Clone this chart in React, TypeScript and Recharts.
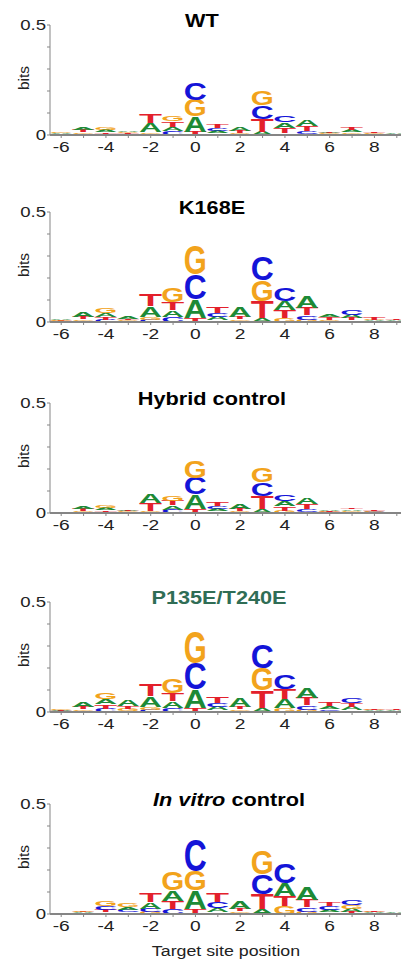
import React from 'react';
import { BarChart, Bar, XAxis, YAxis } from 'recharts';

const POSITIONS = [-6, -5, -4, -3, -2, -1, 0, 1, 2, 3, 4, 5, 6, 7, 8, 9];
const X_TICK_LABELS = [-6, -4, -2, 0, 2, 4, 6, 8];
const Y_TICKS = [0, 0.1, 0.2, 0.3, 0.4, 0.5];

// bits per letter at each position
const WT_A = [0.003, 0.012, 0.010, 0.006, 0.040, 0.020, 0.070, 0.010, 0.020, 0.015, 0.025, 0.028, 0.005, 0.010, 0.003, 0.003];
const WT_C = [0.002, 0.005, 0.006, 0.003, 0.005, 0.018, 0.080, 0.012, 0.004, 0.062, 0.030, 0.012, 0.003, 0.005, 0.002, 0.002];
const WT_G = [0.003, 0.008, 0.011, 0.005, 0.008, 0.025, 0.075, 0.008, 0.005, 0.066, 0.008, 0.005, 0.004, 0.008, 0.003, 0.002];
const WT_T = [0.002, 0.010, 0.008, 0.004, 0.042, 0.024, 0.015, 0.016, 0.010, 0.058, 0.024, 0.024, 0.004, 0.010, 0.003, 0.002];

const K168E_A = [0.005, 0.025, 0.018, 0.012, 0.050, 0.030, 0.085, 0.015, 0.045, 0.020, 0.040, 0.055, 0.012, 0.015, 0.004, 0.003];
const K168E_C = [0.003, 0.005, 0.010, 0.003, 0.010, 0.025, 0.115, 0.020, 0.005, 0.105, 0.060, 0.020, 0.005, 0.022, 0.003, 0.002];
const K168E_G = [0.004, 0.008, 0.022, 0.005, 0.012, 0.065, 0.130, 0.008, 0.008, 0.095, 0.020, 0.010, 0.006, 0.008, 0.004, 0.002];
const K168E_T = [0.003, 0.012, 0.012, 0.005, 0.055, 0.035, 0.020, 0.030, 0.010, 0.075, 0.035, 0.035, 0.010, 0.010, 0.012, 0.003];

const HYB_A = [0.002, 0.011, 0.009, 0.005, 0.040, 0.020, 0.065, 0.010, 0.025, 0.020, 0.024, 0.027, 0.004, 0.008, 0.003, 0.002];
const HYB_C = [0.002, 0.004, 0.006, 0.003, 0.005, 0.015, 0.075, 0.012, 0.004, 0.062, 0.027, 0.012, 0.003, 0.005, 0.003, 0.002];
const HYB_G = [0.002, 0.007, 0.010, 0.004, 0.006, 0.025, 0.080, 0.008, 0.005, 0.068, 0.010, 0.005, 0.003, 0.006, 0.003, 0.002];
const HYB_T = [0.002, 0.009, 0.007, 0.004, 0.036, 0.021, 0.020, 0.015, 0.010, 0.058, 0.020, 0.023, 0.003, 0.008, 0.004, 0.002];

const DBL_A = [0.004, 0.022, 0.025, 0.030, 0.050, 0.030, 0.085, 0.015, 0.040, 0.020, 0.040, 0.050, 0.012, 0.015, 0.004, 0.003];
const DBL_C = [0.003, 0.005, 0.015, 0.005, 0.010, 0.020, 0.120, 0.020, 0.005, 0.110, 0.065, 0.020, 0.008, 0.025, 0.003, 0.002];
const DBL_G = [0.004, 0.008, 0.030, 0.010, 0.012, 0.065, 0.145, 0.008, 0.008, 0.100, 0.020, 0.010, 0.006, 0.008, 0.004, 0.002];
const DBL_T = [0.003, 0.012, 0.020, 0.011, 0.055, 0.035, 0.020, 0.030, 0.012, 0.080, 0.045, 0.035, 0.015, 0.016, 0.006, 0.003];

const VITRO_A = [0.002, 0.004, 0.008, 0.014, 0.030, 0.050, 0.083, 0.018, 0.035, 0.022, 0.060, 0.060, 0.012, 0.015, 0.004, 0.003];
const VITRO_C = [0.002, 0.003, 0.018, 0.010, 0.015, 0.025, 0.145, 0.028, 0.005, 0.090, 0.090, 0.020, 0.015, 0.022, 0.003, 0.002];
const VITRO_G = [0.002, 0.005, 0.022, 0.018, 0.010, 0.085, 0.087, 0.008, 0.008, 0.105, 0.035, 0.010, 0.008, 0.018, 0.004, 0.002];
const VITRO_T = [0.002, 0.004, 0.012, 0.008, 0.040, 0.035, 0.025, 0.040, 0.012, 0.070, 0.045, 0.035, 0.016, 0.010, 0.004, 0.002];

const COLORS: Record<string, string> = { A: '#1d8a36', C: '#1414d8', G: '#f2a31c', T: '#e3202b' };
const FONT = '"Liberation Sans", Arial, sans-serif';
const AXIS = '#858585';
const STRETCH = 1.24;

const panels = [
  { title: <>WT</>, color: '#000', base: 135, cx: 202, a: WT_A, c: WT_C, g: WT_G, t: WT_T },
  { title: <>K168E</>, color: '#000', base: 322, cx: 212, a: K168E_A, c: K168E_C, g: K168E_G, t: K168E_T },
  { title: <>Hybrid control</>, color: '#000', base: 513, cx: 212, a: HYB_A, c: HYB_C, g: HYB_G, t: HYB_T },
  { title: <>P135E/T240E</>, color: '#2f6d55', base: 712, cx: 219, a: DBL_A, c: DBL_C, g: DBL_G, t: DBL_T },
  { title: <><i>In vitro</i> control</>, color: '#000', base: 914, cx: 229, a: VITRO_A, c: VITRO_C, g: VITRO_G, t: VITRO_T },
];

// sort letters per column so the tallest sits on top
function buildRows(a: number[], c: number[], g: number[], t: number[]) {
  return POSITIONS.map((pos, i) => {
    const items: [string, number][] = [['A', a[i]], ['C', c[i]], ['G', g[i]], ['T', t[i]]];
    items.sort((p, q) => p[1] - q[1]);
    const row: any = { pos };
    items.forEach(([l, v], k) => {
      row[`h${k}`] = v;
      row[`l${k}`] = l;
    });
    return row;
  });
}

const Letter = (props: any) => {
  const { x, y, width, height, payload, rank } = props;
  const ch = payload ? payload[`l${rank}`] : null;
  if (!ch || !height || height < 0.15) return null;
  const fs = 100;
  const sy = height / (0.716 * fs);
  return (
    <g transform={`translate(0, ${y + height}) scale(1, ${sy})`}>
      <text
        x={x - 1.5}
        y={0}
        fontSize={fs}
        fontFamily={FONT}
        fontWeight="bold"
        fill={COLORS[ch]}
        textLength={width + 3}
        lengthAdjust="spacingAndGlyphs"
      >
        {ch}
      </text>
    </g>
  );
};

const YTick = (props: any) => {
  const { x, y, payload } = props;
  if (payload.value !== 0 && payload.value !== 0.5) return <g />;
  return (
    <text
      x={x}
      y={y}
      dy={5}
      textAnchor="end"
      fontSize={15}
      fontFamily={FONT}
      fill="#222"
      transform={`translate(${x},0) scale(${STRETCH},1) translate(${-x},0)`}
    >
      {payload.value === 0 ? '0' : '0.5'}
    </text>
  );
};

const XTick = (props: any) => {
  const { x, y, payload } = props;
  if (!X_TICK_LABELS.includes(payload.value)) return <g />;
  return (
    <text
      x={x}
      y={y}
      dy={12}
      textAnchor="middle"
      fontSize={15.5}
      fontFamily={FONT}
      fill="#222"
      transform={`translate(${x},0) scale(${STRETCH},1) translate(${-x},0)`}
    >
      {payload.value}
    </text>
  );
};

const textBase: React.CSSProperties = {
  position: 'absolute',
  fontFamily: FONT,
  lineHeight: 1,
  whiteSpace: 'nowrap',
};

export default function App() {
  return (
    <div style={{ position: 'absolute', left: 0, top: 0, width: 401, height: 962, overflow: 'hidden', background: '#fff' }}>
      {panels.map((p, idx) => {
        const rows = buildRows(p.a, p.c, p.g, p.t);
        return (
          <React.Fragment key={idx}>
            <div style={{ position: 'absolute', left: 0, top: p.base - 115 }}>
              <BarChart width={408} height={140} data={rows} margin={{ top: 5, right: 0, bottom: 0, left: 0 }}>
                <XAxis
                  dataKey="pos"
                  type="number"
                  domain={[-6.5, 9.5]}
                  ticks={POSITIONS}
                  interval={0}
                  tick={<XTick />}
                  tickSize={3}
                  tickLine={{ stroke: AXIS }}
                  axisLine={{ stroke: AXIS, strokeWidth: 2 }}
                  height={25}
                />
                <YAxis
                  type="number"
                  domain={[0, 0.5]}
                  ticks={Y_TICKS}
                  interval={0}
                  tick={<YTick />}
                  tickSize={3}
                  tickMargin={1}
                  tickLine={{ stroke: AXIS }}
                  axisLine={{ stroke: AXIS }}
                  width={50}
                />
                {[0, 1, 2, 3].map((k) => (
                  <Bar
                    key={k}
                    dataKey={`h${k}`}
                    stackId="logo"
                    barSize={20}
                    isAnimationActive={false}
                    shape={(sp: any) => <Letter {...sp} rank={k} />}
                  />
                ))}
              </BarChart>
            </div>
            <div
              style={{
                ...textBase,
                left: p.cx,
                top: p.base - 113,
                fontSize: 17.5,
                fontWeight: 'bold',
                color: p.color,
                transform: `translate(-50%, -50%) scaleX(${STRETCH})`,
              }}
            >
              {p.title}
            </div>
            <div
              style={{
                ...textBase,
                left: 24,
                top: p.base - 57,
                fontSize: 15.5,
                color: '#222',
                transform: 'translate(-50%, -50%) rotate(-90deg)',
              }}
            >
              bits
            </div>
          </React.Fragment>
        );
      })}
      <div
        style={{
          ...textBase,
          left: 226,
          top: 951,
          fontSize: 14,
          color: '#222',
          transform: `translate(-50%, -50%) scaleX(1.27)`,
        }}
      >
        Target site position
      </div>
    </div>
  );
}
